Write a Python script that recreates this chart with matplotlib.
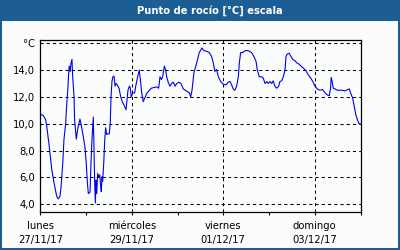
import matplotlib
matplotlib.use("Agg")
import matplotlib.pyplot as plt
from matplotlib.patches import Rectangle

hours = [0, 1.6, 2.8, 3.4, 4.7, 6.0, 7.2, 8.6, 9.4, 10.3, 10.9, 11.8, 12.4, 13.3, 13.8,
         14.4, 14.9, 15.2, 15.7, 16.1, 16.6, 17.0, 17.7, 18.0, 18.6, 18.9, 19.4, 19.9,
         20.8, 21.5, 22.0, 22.6, 23.4, 24.1, 24.7, 25.2, 26.1, 26.6, 27.1, 27.5, 27.8,
         28.2, 28.5, 28.9, 29.2, 29.6, 30.1, 30.6, 31.2, 31.7, 32.0, 32.4, 32.7, 33.3,
         33.8, 34.3, 34.8, 35.4, 36.2, 36.7, 37.1, 37.6, 38.1, 38.7, 39.2, 39.7, 40.4,
         41.3, 42.2, 43.0, 43.9, 45.0, 45.3, 46.0, 46.7, 47.2, 47.7, 48.5, 49.5, 50.2,
         51.3, 51.9, 52.5, 53.2, 54.0, 55.1, 56.0, 57.0, 58.2, 59.6, 61.1, 62.1, 62.8,
         63.5, 64.2, 65.1, 65.8, 66.3, 67.1, 68.0, 68.9, 69.8, 70.7, 71.6, 72.8, 73.8,
         75.0, 76.1, 77.1, 78.2, 78.9, 79.6, 80.6, 82.0, 83.4, 83.8, 84.8, 85.9, 87.3,
         88.7, 89.9, 90.8, 91.6, 92.5, 93.4, 94.6, 96.0, 97.4, 98.6, 99.5, 100.4, 101.2,
         102.1, 103.0, 103.9, 104.4, 105.1, 106.2, 107.4, 109.1, 110.9, 112.1, 113.2,
         113.8, 114.9, 116.1, 117.0, 117.9, 118.8, 119.6, 120.5, 121.4, 122.2, 123.1,
         124.0, 125.1, 125.7, 126.6, 127.5, 128.4, 128.9, 129.6, 130.6, 131.4, 132.4,
         133.6, 134.5, 135.7, 136.8, 138.0, 139.4, 140.6, 141.9, 143.2, 144.1, 145.3,
         146.7, 148.1, 149.4, 150.6, 151.6, 152.3, 152.6, 153.2, 153.7, 154.6, 155.8,
         158.1, 159.8, 161.3, 162.1, 162.8, 163.9, 164.7, 165.6, 166.5, 167.3, 167.8]

dewpoint = [10.74, 10.6, 10.3, 9.8, 8.3, 6.6, 5.6, 4.6, 4.4, 4.6, 5.3, 7.1, 8.8, 10.0, 11.3,
            12.5, 13.8, 14.3, 13.9, 14.5, 14.8, 13.5, 12.0, 10.3, 9.3, 8.85, 9.4, 9.8,
            10.35, 9.9, 9.5, 9.0, 8.3, 7.1, 5.6, 4.8, 4.9, 7.1, 8.8, 9.8, 10.5,
            8.05, 5.8, 4.1, 5.8, 4.8, 6.3, 6.05, 6.2, 5.3, 4.95, 6.05, 5.7, 7.1,
            8.8, 9.7, 9.2, 9.25, 9.25, 10.05, 12.0, 13.15, 13.5, 13.55, 12.8, 13.0, 12.9,
            12.65, 12.0, 11.65, 11.4, 11.05, 11.5, 12.5, 12.8, 12.7, 12.0, 12.3, 12.3, 12.9,
            13.65, 14.0, 13.3, 12.3, 11.65, 12.0, 12.3, 12.45, 12.65, 12.7, 12.75, 12.65, 13.5,
            13.3, 13.5, 14.3, 14.0, 13.5, 13.1, 12.8, 13.0, 13.1, 12.8, 13.0, 13.1, 13.0,
            12.6, 12.5, 12.4, 12.3, 12.0, 12.5, 13.8, 14.5, 15.3, 15.4, 15.65, 15.45, 15.4,
            15.3, 15.0, 14.5, 13.9, 14.05, 13.5, 13.15, 12.95, 12.9, 13.1, 13.15, 12.9, 12.6,
            12.5, 12.8, 13.5, 14.5, 15.3, 15.3, 15.45, 15.45, 15.3, 15.0, 14.65,
            14.05, 13.5, 13.5, 13.4, 13.0, 13.15, 13.0, 13.15, 13.0, 13.2, 12.8,
            12.65, 12.8, 13.15, 13.2, 13.5, 14.0, 15.0, 15.2, 15.25, 15.05, 14.8,
            14.7, 14.55, 14.45, 14.3, 14.15, 13.95, 13.65, 13.4, 13.1, 12.8, 12.6,
            12.5, 12.55, 12.3, 12.15, 12.1, 12.65, 13.45, 13.1, 12.65, 12.6, 12.5,
            12.5, 12.45, 12.55, 12.6, 12.3, 11.9, 11.3, 10.65, 10.25, 10.0, 10.0]

title = "Punto de rocío [°C] escala"
y_ticks = [4, 6, 8, 10, 12, 14, 16]
y_labels = ["4,0", "6,0", "8,0", "10,0", "12,0", "14,0", "°C"]
x_major = [0, 48, 96, 144]
x_minor = [24, 72, 120, 168]
x_labels = ["lunes\n27/11/17", "miércoles\n29/11/17", "viernes\n01/12/17", "domingo\n03/12/17"]

border = "#1D5D96"
fig = plt.figure(figsize=(4, 2.5), dpi=100, facecolor=border)
# inner panel
fig.patches.append(Rectangle((2 / 400, 2 / 250), 396 / 400, (250 - 2 - 21) / 250,
                             transform=fig.transFigure, facecolor="#FAFDFB",
                             edgecolor="none", zorder=0))
fig.text(210 / 400, 1 - 10.5 / 250, title, color="white", fontsize=7.2, fontweight="bold",
         ha="center", va="center")

ax = fig.add_axes([40.3 / 400, 1 - 211.7 / 250, 320.2 / 400, 171.4 / 250])
ax.set_zorder(5)
ax.set_facecolor("#FAFDFB")
ax.plot(hours, dewpoint, color="#0000F0", lw=0.8, zorder=3)
ax.set_xlim(0, 168)
ax.set_ylim(3.45, 16.22)

ax.set_yticks(y_ticks)
ax.set_yticklabels(y_labels)
ax.set_xticks(x_major)
ax.set_xticklabels(x_labels, linespacing=1.5)
ax.set_xticks(x_minor, minor=True)

ax.tick_params(axis="y", length=0, pad=4, labelsize=7.2, colors="black")
ax.tick_params(axis="x", which="both", length=2.5, width=0.8, direction="out",
               labelsize=7.2, pad=4)

for y in y_ticks:
    ax.axhline(y, color="black", lw=0.75, ls=(0, (3, 3)), zorder=1)
for x in x_major[1:]:
    ax.axvline(x, color="black", lw=0.75, ls=(0, (3, 3)), zorder=1)

for s in ax.spines.values():
    s.set_linewidth(0.9)
    s.set_color("black")

fig.savefig("out.png", dpi=100, facecolor=border)
